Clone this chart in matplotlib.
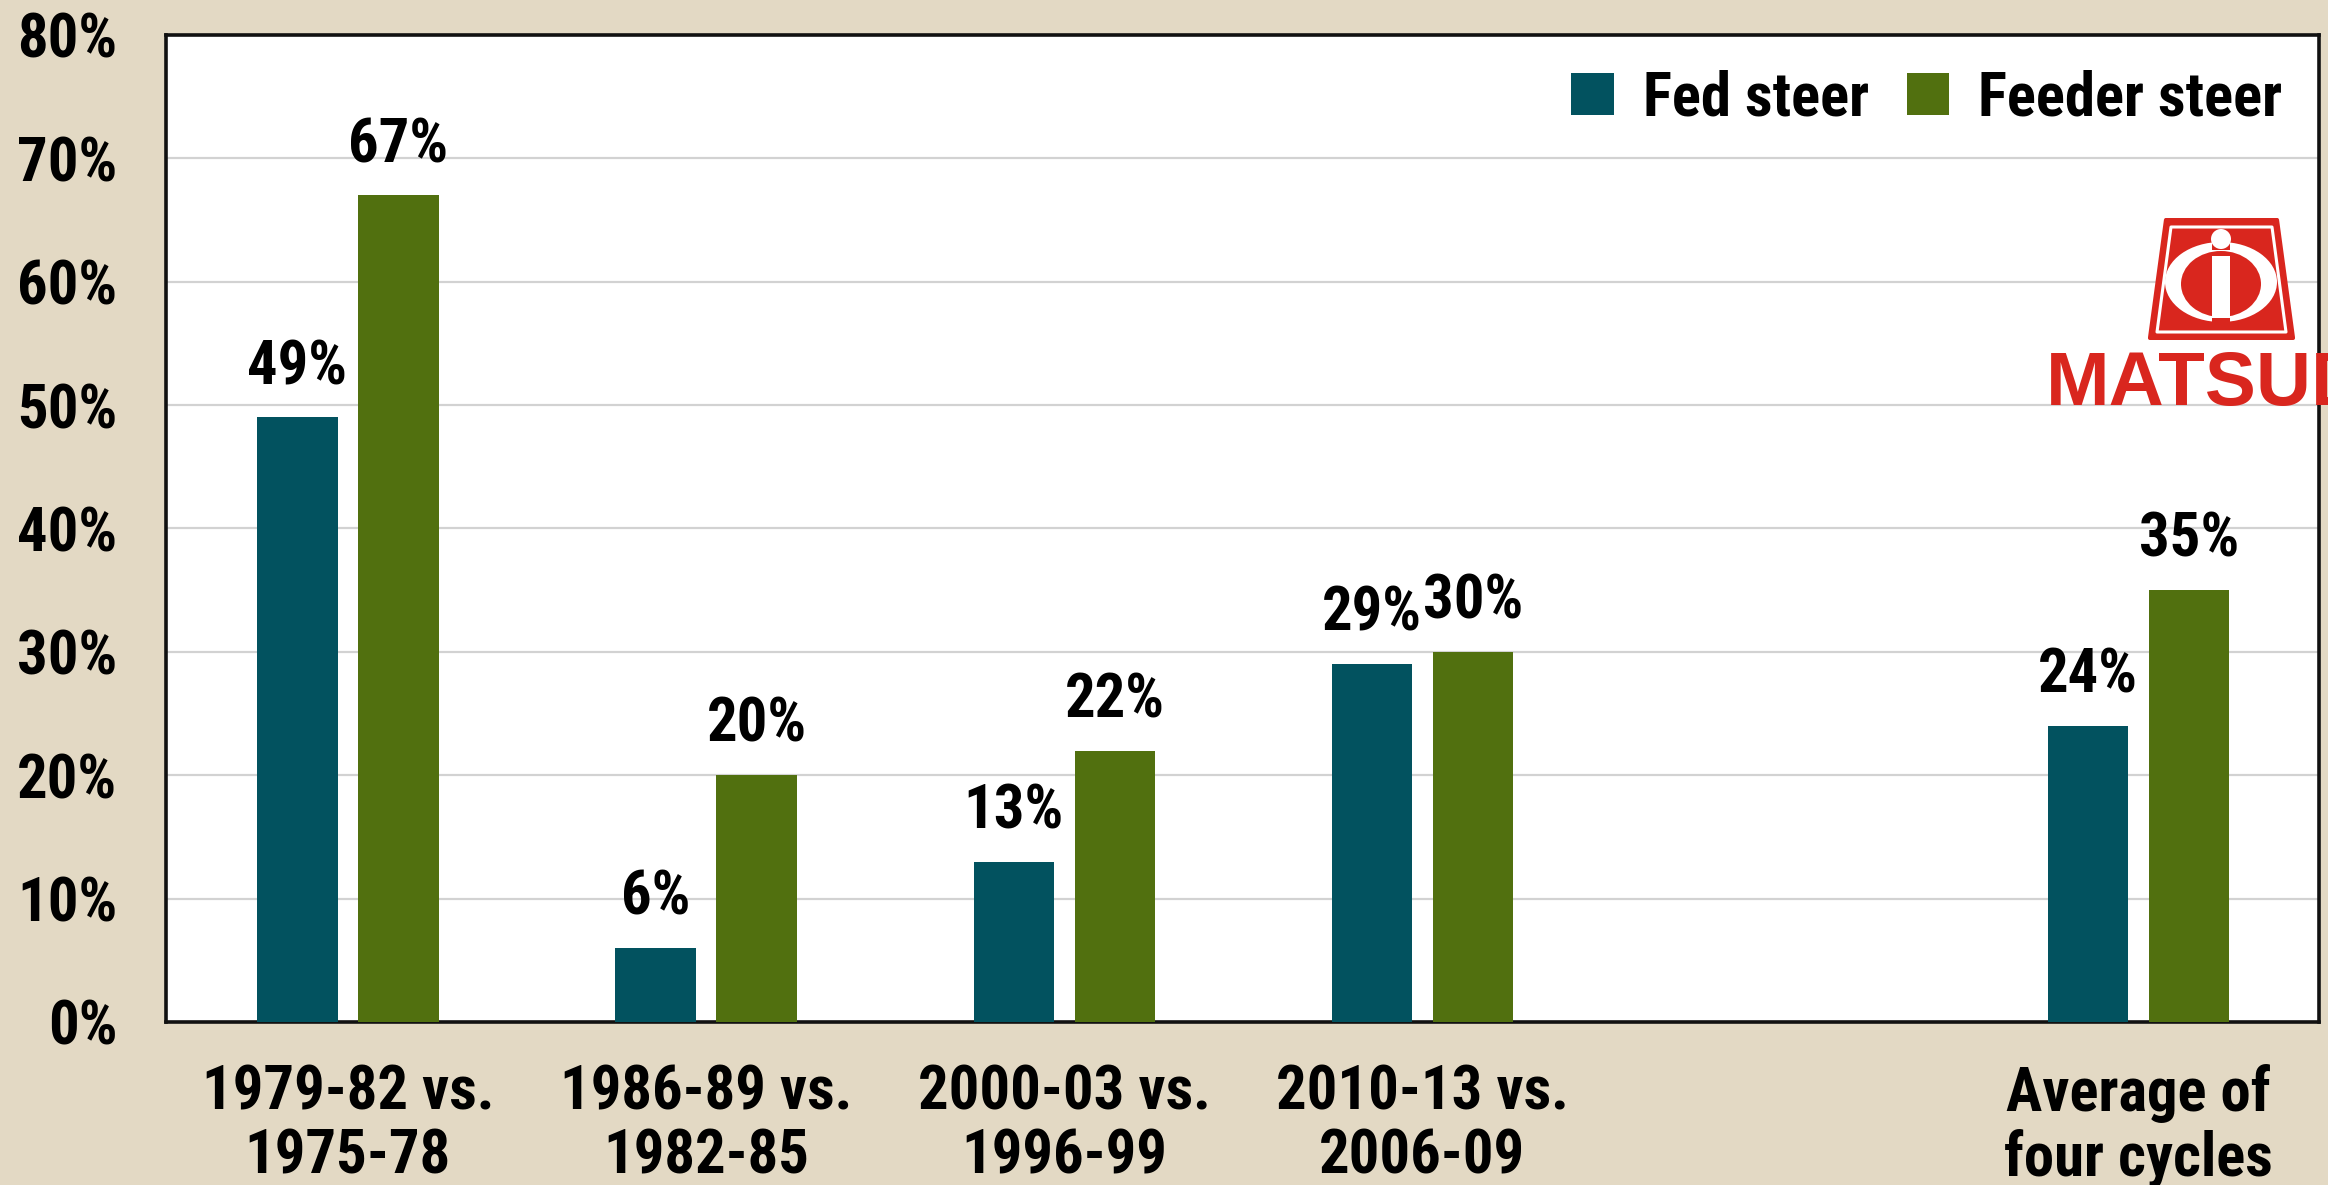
import matplotlib
matplotlib.use("Agg")
import matplotlib.pyplot as plt
from matplotlib import font_manager
from matplotlib.patches import Patch, Polygon, Ellipse, Rectangle, Circle
import numpy as np

# data
categories = ["1979-82 vs.\n1975-78", "1986-89 vs.\n1982-85", "2000-03 vs.\n1996-99",
              "2010-13 vs.\n2006-09", "Average of\nfour cycles"]
positions = [0, 1, 2, 3, 5]
fed_steer = [49, 6, 13, 29, 24]
feeder_steer = [67, 20, 22, 30, 35]
y_ticks = [0, 10, 20, 30, 40, 50, 60, 70, 80]

BG = "#e3d9c4"
FED_COLOR = "#02525f"
FEEDER_COLOR = "#51700f"
LOGO_RED = "#d9261e"


def pick_font():
    # look for a condensed heavy face, the chart uses a narrow black type
    fonts = font_manager.fontManager.ttflist
    names = {f.name for f in fonts}
    for n in ["Liberation Sans Narrow", "Roboto Condensed", "Open Sans Condensed",
              "Noto Sans Condensed", "Arial Narrow"]:
        if n in names:
            return {"family": [n, "DejaVu Sans"], "weight": 800, "stretch": "normal"}
    for f in fonts:
        if f.name == "DejaVu Sans" and f.stretch == "condensed" and f.weight in (600, 700, "bold"):
            return {"family": ["DejaVu Sans"], "weight": "bold", "stretch": "condensed"}
    for n in ["Roboto", "Liberation Sans"]:
        if n in names:
            return {"family": [n, "DejaVu Sans"], "weight": "bold", "stretch": "normal"}
    return {"family": ["DejaVu Sans"], "weight": "bold", "stretch": "normal"}


FONT = pick_font()

fig = plt.figure(figsize=(23.28, 11.85), dpi=100, facecolor=BG)

# size the type so "Feeder steer" is about as wide as in the chart
probe = fig.text(0, 0, "Feeder steer", fontsize=43, family=FONT["family"],
                 fontweight=FONT["weight"], fontstretch=FONT["stretch"])
fig.canvas.draw()
pw = probe.get_window_extent(fig.canvas.get_renderer()).width
probe.remove()
FS = min(47, 43 * 305 / pw)
TXT = dict(fontsize=FS, family=FONT["family"], fontweight=FONT["weight"],
           fontstretch=FONT["stretch"])

ax = fig.add_axes([0.0713, 0.1376, 0.9248, 0.8329])
ax.set_facecolor("white")

x = np.array(positions, dtype=float)
w = 0.224
off = 0.141
ax.bar(x - off, fed_steer, width=w, color=FED_COLOR, zorder=3)
ax.bar(x + off, feeder_steer, width=w, color=FEEDER_COLOR, zorder=3)

for xi, v in zip(x - off, fed_steer):
    ax.text(xi, v + 2.7, f"{v}%", ha="center", va="baseline", zorder=4, **TXT)
for xi, v in zip(x + off, feeder_steer):
    ax.text(xi, v + 2.7, f"{v}%", ha="center", va="baseline", zorder=4, **TXT)

ax.set_xlim(-0.508, 5.504)
ax.set_ylim(0, 80)
ax.set_yticks(y_ticks)
ax.set_yticklabels([f"{t}%" for t in y_ticks], **TXT)
ax.set_xticks(positions)
ax.set_xticklabels(categories, linespacing=1.12, **TXT)
ax.tick_params(axis="both", length=0)
ax.tick_params(axis="y", pad=35)
ax.tick_params(axis="x", pad=30)
ax.grid(axis="y", color="#d2d2d2", linewidth=1.6, zorder=1)
ax.set_axisbelow(True)
for s in ax.spines.values():
    s.set_linewidth(2.6)
    s.set_color("#111111")

handles = [Patch(facecolor=FED_COLOR, label="Fed steer"),
           Patch(facecolor=FEEDER_COLOR, label="Feeder steer")]
ax.legend(handles=handles, loc="center right", bbox_to_anchor=(0.983, 0.936), ncol=2,
          frameon=False, handlelength=0.7, handleheight=0.7, handletextpad=0.48,
          columnspacing=0.62, borderpad=0, borderaxespad=0,
          prop={"family": FONT["family"], "weight": FONT["weight"],
                "stretch": FONT["stretch"], "size": FS})

# watermark logo, the name runs over the frame and off the picture
ax.text(0.873, 0.625, "MATSUDA", transform=ax.transAxes, fontsize=55, fontweight="bold",
        family=["Liberation Sans", "DejaVu Sans"], color=LOGO_RED, ha="left",
        va="baseline", clip_on=False, zorder=6)

lax = fig.add_axes([2148 / 2328, 1 - 340 / 1185, 147 / 2328, 122 / 1185])
lax.set_xlim(0, 147)
lax.set_ylim(0, 122)
lax.axis("off")
lax.add_patch(Polygon([[2, 2], [145, 2], [129, 120], [18, 120]], closed=True,
                      facecolor=LOGO_RED, edgecolor=LOGO_RED, linewidth=3, joinstyle="round"))
lax.add_patch(Polygon([[9, 8], [138, 8], [124, 113], [23, 113]], closed=True,
                      facecolor="none", edgecolor="white", linewidth=2.2, joinstyle="round"))
lax.add_patch(Ellipse((73, 58), 112, 80, facecolor="white", edgecolor="none"))
lax.add_patch(Ellipse((73, 56), 80, 66, facecolor=LOGO_RED, edgecolor="none"))
lax.add_patch(Rectangle((64, 14), 18, 8, facecolor=LOGO_RED, edgecolor="none"))
lax.add_patch(Rectangle((64, 90), 18, 12, facecolor=LOGO_RED, edgecolor="none"))
lax.add_patch(Rectangle((64, 22), 18, 62, facecolor="white", edgecolor="none"))
lax.add_patch(Circle((73, 101), 10, facecolor="white", edgecolor="none"))

fig.savefig("out.png", dpi=100, facecolor=BG)
